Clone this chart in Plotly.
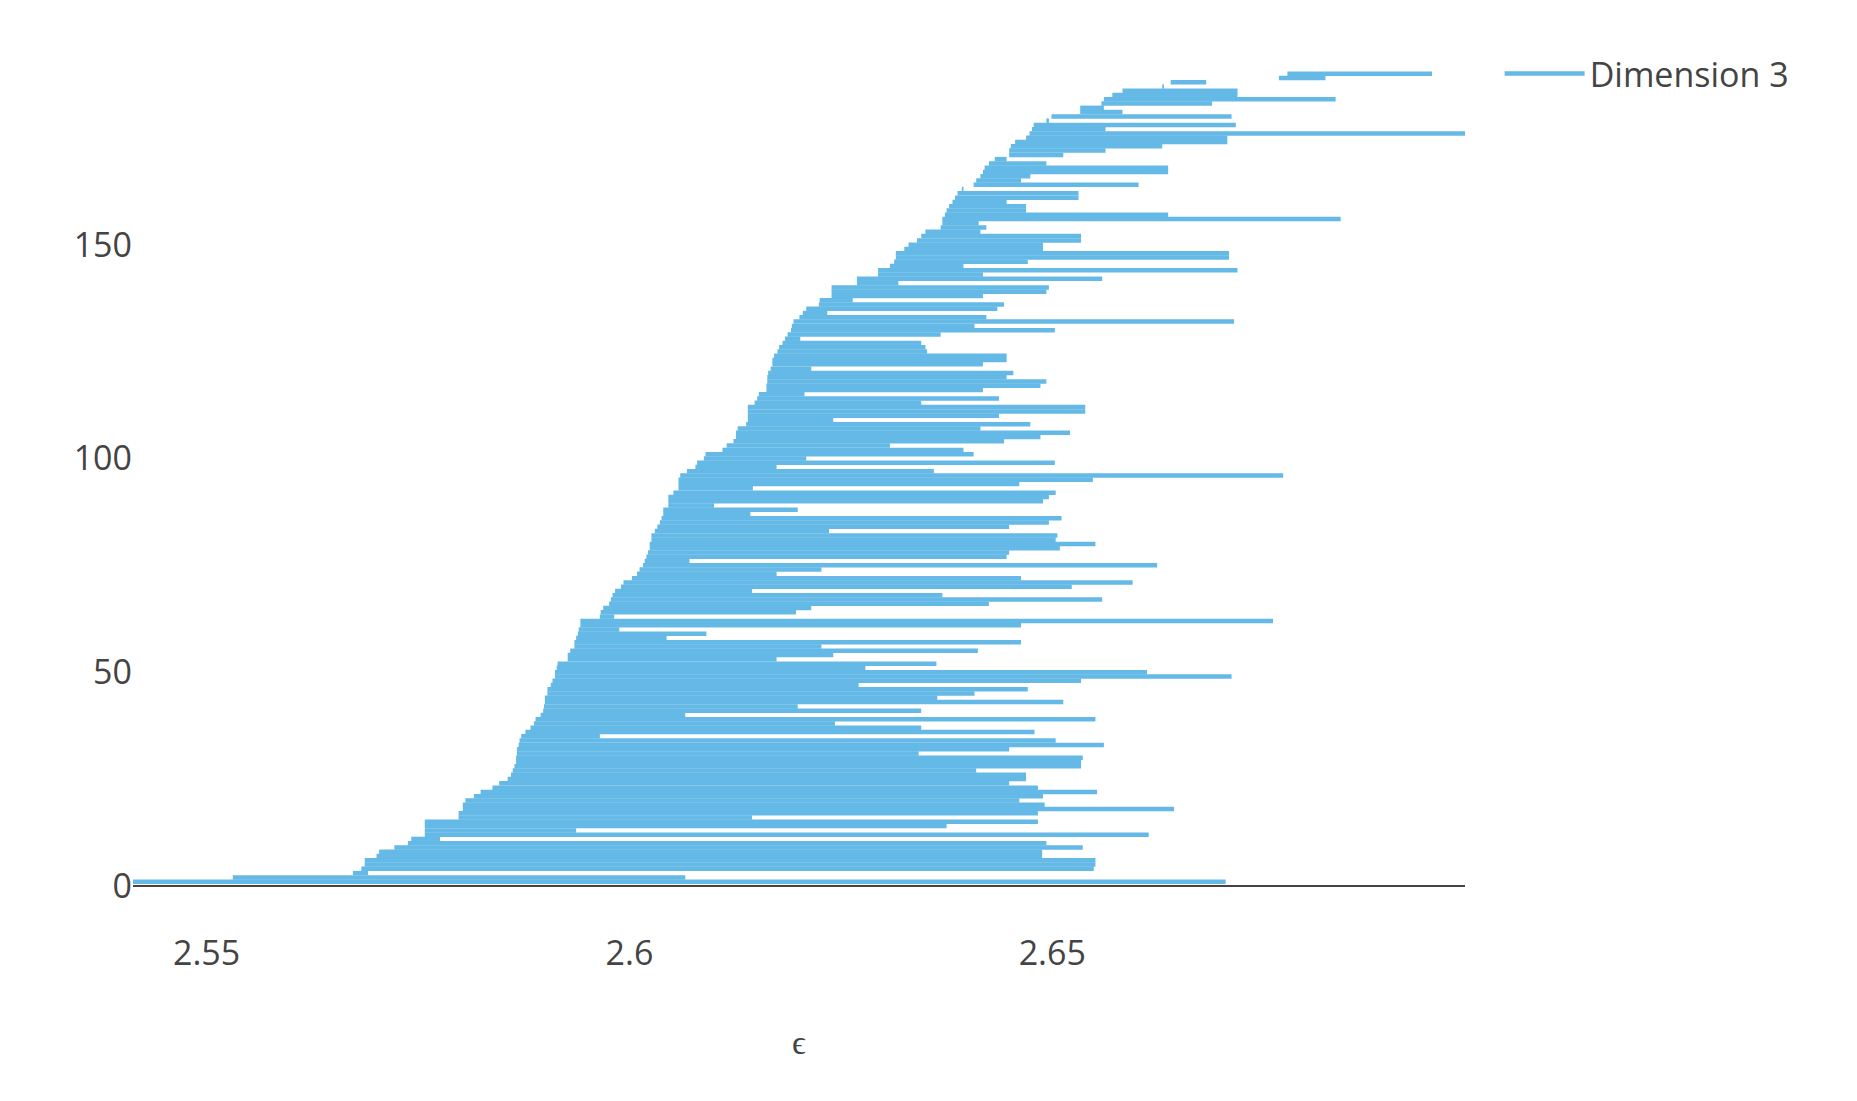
import plotly.graph_objects as go

# persistence bars for dimension 3 (birth, death), sorted by birth
births = [
    2.5413, 2.5531, 2.5673, 2.5683, 2.5687, 2.5687, 2.5701, 2.5704, 2.5722, 2.5738,
    2.5742, 2.5758, 2.5758, 2.5758, 2.5758, 2.5798, 2.5798, 2.5803, 2.5803, 2.5806,
    2.5816, 2.5824, 2.5838, 2.5846, 2.5856, 2.5860, 2.5862, 2.5864, 2.5866, 2.5866,
    2.5867, 2.5867, 2.5869, 2.5870, 2.5872, 2.5877, 2.5883, 2.5887, 2.5889, 2.5895,
    2.5898, 2.5899, 2.5900, 2.5900, 2.5903, 2.5903, 2.5907, 2.5909, 2.5912, 2.5912,
    2.5914, 2.5915, 2.5927, 2.5927, 2.5930, 2.5935, 2.5935, 2.5937, 2.5939, 2.5940,
    2.5942, 2.5942, 2.5965, 2.5966, 2.5969, 2.5976, 2.5978, 2.5980, 2.5983, 2.5990,
    2.5993, 2.6003, 2.6009, 2.6012, 2.6016, 2.6018, 2.6020, 2.6022, 2.6024, 2.6024,
    2.6026, 2.6026, 2.6030, 2.6033, 2.6036, 2.6038, 2.6040, 2.6040, 2.6046, 2.6046,
    2.6046, 2.6052, 2.6058, 2.6058, 2.6058, 2.6060, 2.6068, 2.6078, 2.6080, 2.6088,
    2.6090, 2.6110, 2.6115, 2.6123, 2.6126, 2.6126, 2.6128, 2.6138, 2.6140, 2.6140,
    2.6140, 2.6140, 2.6148, 2.6151, 2.6153, 2.6162, 2.6162, 2.6163, 2.6163, 2.6164,
    2.6167, 2.6169, 2.6169, 2.6171, 2.6175, 2.6177, 2.6181, 2.6184, 2.6187, 2.6191,
    2.6192, 2.6194, 2.6201, 2.6205, 2.6209, 2.6224, 2.6225, 2.6239, 2.6239, 2.6239,
    2.6269, 2.6269, 2.6294, 2.6294, 2.6308, 2.6313, 2.6315, 2.6315, 2.6325, 2.6330,
    2.6340, 2.6345, 2.6350, 2.6368, 2.6370, 2.6370, 2.6373, 2.6375, 2.6378, 2.6382,
    2.6385, 2.6388, 2.6393, 2.6407, 2.6410, 2.6415, 2.6418, 2.6420, 2.6425, 2.6432,
    2.6449, 2.6449, 2.6451, 2.6456, 2.6469, 2.6473, 2.6476, 2.6478, 2.6493, 2.6499,
    2.6533, 2.6533, 2.6558, 2.6561, 2.6571, 2.6583, 2.6630, 2.6640, 2.6768, 2.6778,
]
deaths = [
    2.6705, 2.6066, 2.5691, 2.6549, 2.6551, 2.6551, 2.6488, 2.6488, 2.6536, 2.6493,
    2.5776, 2.6614, 2.5937, 2.6375, 2.6483, 2.6145, 2.6483, 2.6644, 2.6491, 2.6461,
    2.6489, 2.6553, 2.6483, 2.6449, 2.6469, 2.6469, 2.6410, 2.6534, 2.6534, 2.6536,
    2.6342, 2.6449, 2.6561, 2.6504, 2.5965, 2.6479, 2.6345, 2.6243, 2.6551, 2.6066,
    2.6345, 2.6199, 2.6513, 2.6364, 2.6408, 2.6471, 2.6271, 2.6534, 2.6712, 2.6612,
    2.6279, 2.6363, 2.6174, 2.6241, 2.6412, 2.6227, 2.6463, 2.6044, 2.6091, 2.5988,
    2.6463, 2.6761, 2.5982, 2.6197, 2.6215, 2.6425, 2.6559, 2.6370, 2.6145, 2.6523,
    2.6595, 2.6463, 2.6174, 2.6227, 2.6624, 2.6071, 2.6446, 2.6449, 2.6509, 2.6551,
    2.6504, 2.6506, 2.6236, 2.6449, 2.6496, 2.6511, 2.6143, 2.6199, 2.6100, 2.6489,
    2.6496, 2.6504, 2.6146, 2.6461, 2.6548, 2.6773, 2.6360, 2.6174, 2.6503, 2.6209,
    2.6407, 2.6395, 2.6308, 2.6443, 2.6486, 2.6521, 2.6415, 2.6474, 2.6241, 2.6437,
    2.6539, 2.6539, 2.6345, 2.6437, 2.6207, 2.6418, 2.6486, 2.6493, 2.6446, 2.6454,
    2.6215, 2.6418, 2.6446, 2.6446, 2.6352, 2.6350, 2.6345, 2.6202, 2.6368, 2.6503,
    2.6408, 2.6715, 2.6422, 2.6234, 2.6435, 2.6443, 2.6264, 2.6418, 2.6493, 2.6496,
    2.6318, 2.6559, 2.6418, 2.6719, 2.6395, 2.6471, 2.6709, 2.6709, 2.6489, 2.6489,
    2.6534, 2.6534, 2.6415, 2.6422, 2.6413, 2.6841, 2.6637, 2.6469, 2.6469, 2.6446,
    2.6531, 2.6531, 2.6395, 2.6602, 2.6463, 2.6474, 2.6637, 2.6637, 2.6493, 2.6446,
    2.6513, 2.6563, 2.6630, 2.6707, 2.6707, 2.6988, 2.6563, 2.6717, 2.6496, 2.6712,
    2.6583, 2.6561, 2.6689, 2.6835, 2.6719, 2.6719, 2.6632, 2.6682, 2.6823, 2.6949,
]
bar_index = list(range(1, len(births) + 1))

# one trace, bars separated by None gaps
xs = []
ys = []
for b, d, i in zip(births, deaths, bar_index):
    xs += [b, d, None]
    ys += [i, i, None]

fig = go.Figure(go.Scatter(
    x=xs, y=ys, mode='lines', name='Dimension 3',
    line=dict(color='rgb(100,185,230)', width=4.5),
    showlegend=True,
))

fig.update_layout(
    width=1857, height=1101,
    paper_bgcolor='white', plot_bgcolor='white',
    font=dict(family='Open Sans', size=34, color='#444'),
    margin=dict(l=125, r=400, t=37, b=179),
    legend=dict(x=1.026, y=1, xanchor='left', yanchor='top', itemwidth=80,
                font=dict(size=34, color='#444')),
    xaxis=dict(title=dict(text='ϵ', font=dict(size=34), standoff=56),
               showgrid=False, zeroline=False, showline=False,
               tick0=0, dtick=0.05, automargin=False),
    yaxis=dict(range=[-10.3, 196.7], showgrid=False, zeroline=True,
               zerolinecolor='#444', zerolinewidth=2,
               tick0=0, dtick=50, automargin=False),
)

fig.write_html("out.html")
